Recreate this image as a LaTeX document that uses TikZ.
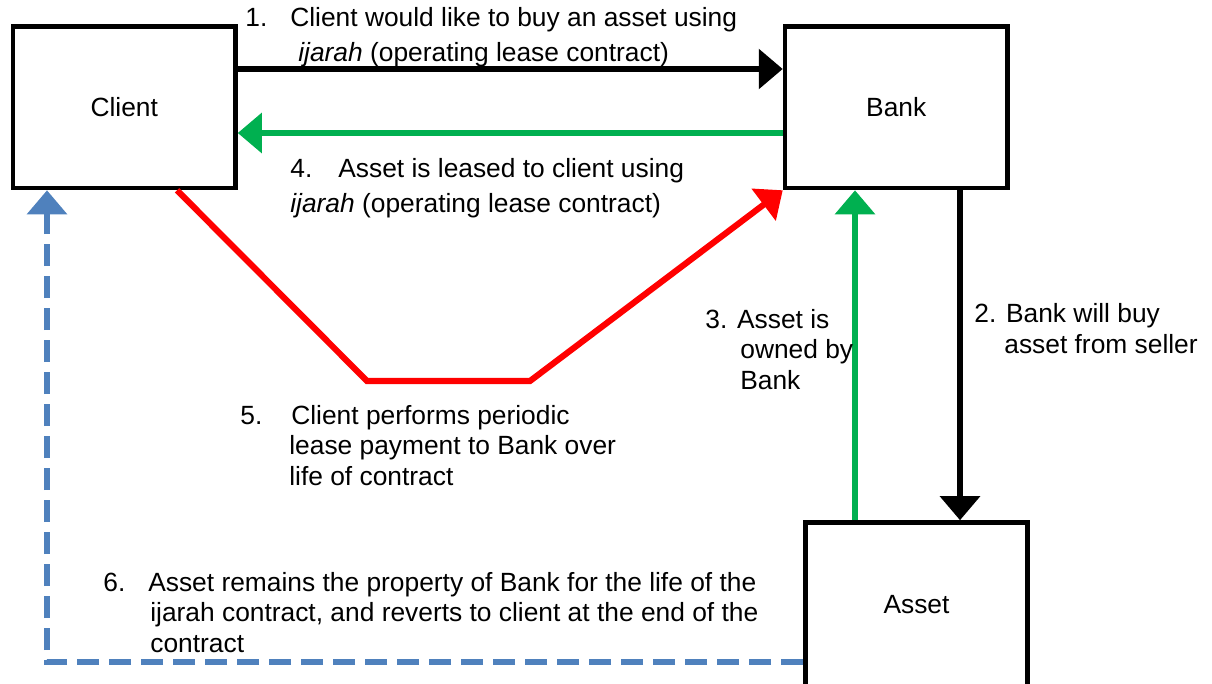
\documentclass[tikz,border=0pt]{standalone}
\usepackage{fontspec}
\setmainfont{Liberation Sans}
\usetikzlibrary{arrows.meta}
\definecolor{leasegreen}{HTML}{00B050}
\definecolor{payred}{HTML}{FF0000}
\definecolor{dashblue}{HTML}{4F81BD}
\begin{document}
\begin{tikzpicture}[x=0.02cm,y=-0.02cm,
  party/.style={draw,line width=2.6pt,minimum width=4.45cm,minimum height=3.23cm,font=\fontsize{15}{18}\selectfont},
  flow/.style={line width=3.5pt,-{Triangle[width=0.78cm,length=0.48cm]}},
  note/.style={anchor=base west,align=left,inner sep=0pt,font=\fontsize{15}{17.1}\selectfont},
  widenote/.style={note,font=\fontsize{15}{19.6}\selectfont}]
\useasboundingbox (0,0) rectangle (1212,683);

% the three parties
\node[party] (client) at (124.25,107.25) {Client};
\node[party] (bank) at (896.25,107.25) {Bank};
\node[party,minimum height=3.3cm] (asset) at (916.5,605) {Asset};

\coordinate (dipL) at (367,381);
\coordinate (dipR) at (530,381);
\coordinate (turn) at (47,662);

% flows between them
\draw[flow] (client.east |- 0,69) -- (bank.west |- 0,69);
\draw[flow] (bank.south -| 960,0) -- (asset.north -| 960,0);
\draw[flow,leasegreen] (asset.north -| 855,0) -- (bank.south -| 855,0);
\draw[flow,leasegreen] (bank.west |- 0,133) -- (client.east |- 0,133);
\draw[flow,payred] (client.south -| 177,0) -- (dipL) -- (dipR) -- (bank.south west);
\draw[flow,dashblue,dash pattern=on 0.44cm off 0.2cm] (asset.west |- 0,662) -- (turn) -- (client.south -| turn);

% numbered steps (placed at the baseline of their last line)
\node[widenote] (step1) at (245,61) {1.\hspace{0.46cm}Client would like to buy an asset using\\\hspace*{1.06cm}\textit{ijarah} (operating lease contract)};
\node[note] (step2) at (974,353) {2. Bank will buy\\\hspace*{0.6cm}asset from seller};
\node[note] (step3) at (705,389) {3. Asset is\\\hspace*{0.7cm}owned by\\\hspace*{0.7cm}Bank};
\node[widenote] (step4) at (290,212) {4.\hspace{0.52cm}Asset is leased to client using\\\textit{ijarah} (operating lease contract)};
\node[note] (step5) at (240,485) {5.\hspace{0.58cm}Client performs periodic\\\hspace*{0.98cm}lease payment to Bank over\\\hspace*{0.98cm}life of contract};
\node[note] (step6) at (103,652) {6.\hspace{0.46cm}Asset remains the property of Bank for the life of the\\\hspace*{0.94cm}ijarah contract, and reverts to client at the end of the\\\hspace*{0.94cm}contract};

\end{tikzpicture}
\end{document}
